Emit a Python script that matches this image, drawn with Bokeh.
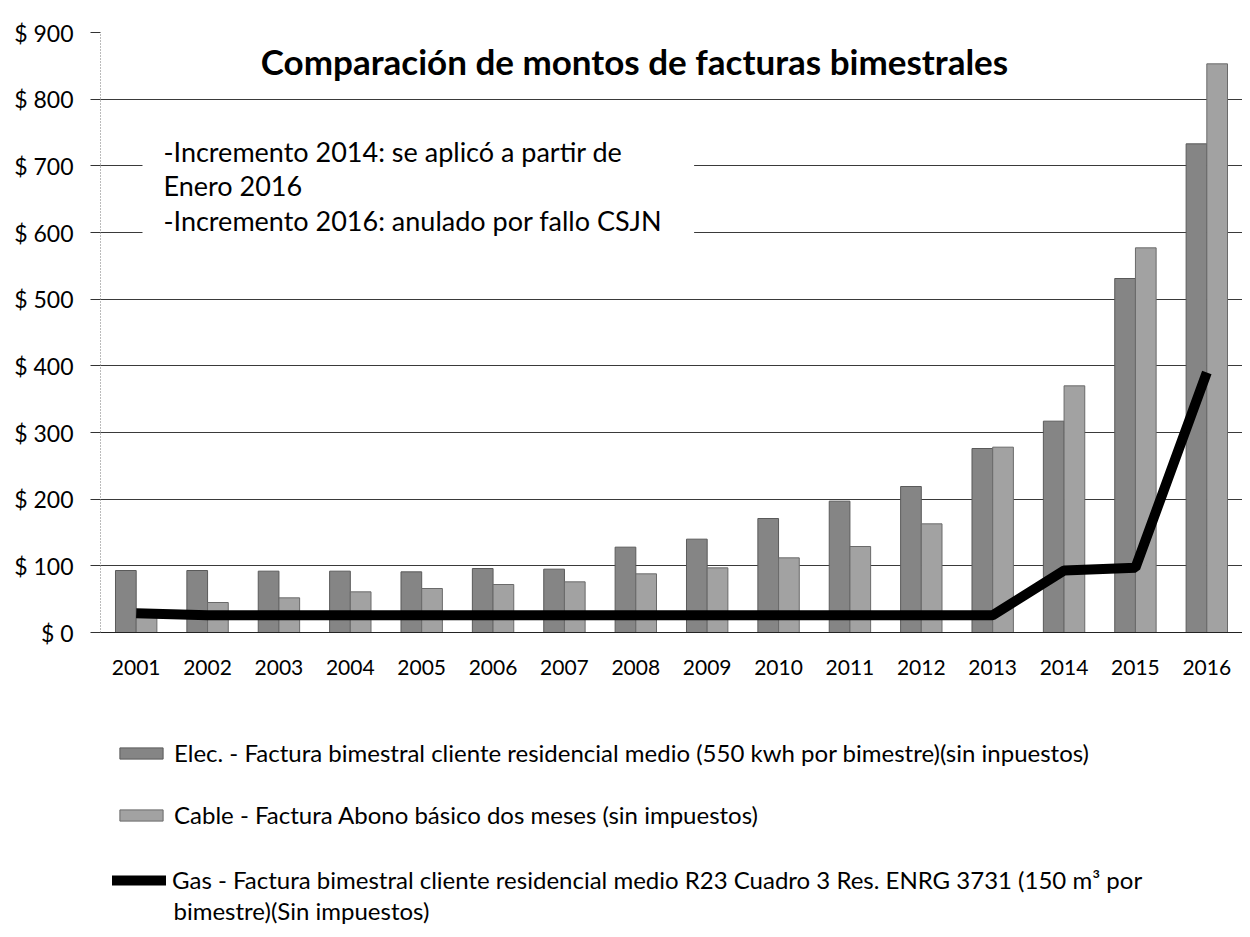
from bokeh.plotting import figure
from bokeh.layouts import column
from bokeh.models import (ColumnDataSource, FactorRange, FixedTicker, Label, Legend, LegendItem)
from bokeh.transform import dodge
from bokeh.embed import file_html
from bokeh.resources import INLINE

years = ["2001", "2002", "2003", "2004", "2005", "2006", "2007", "2008",
         "2009", "2010", "2011", "2012", "2013", "2014", "2015", "2016"]
elec = [93, 93, 92, 92, 91, 96, 95, 128, 140, 171, 197, 219, 276, 317, 531, 733]
cable = [25, 45, 52, 61, 66, 72, 76, 88, 97, 112, 129, 163, 278, 370, 577, 853]
gas = [29, 26, 26, 26, 26, 26, 26, 26, 26, 26, 26, 26, 26, 93, 97, 390]
y_ticks = [0, 100, 200, 300, 400, 500, 600, 700, 800, 900]

title_text = "Comparación de montos de facturas bimestrales"
note_text = "-Incremento 2014: se aplicó a partir de\nEnero 2016\n-Incremento 2016: anulado por fallo CSJN"
elec_label = "Elec. - Factura bimestral cliente residencial medio (550 kwh por bimestre)(sin inpuestos)"
cable_label = "Cable - Factura Abono básico dos meses (sin impuestos)"
gas_label = "Gas - Factura bimestral cliente residencial medio R23 Cuadro 3 Res. ENRG 3731 (150 m³ por"
gas_label2 = "bimestre)(Sin impuestos)"

FONT = "Lato"
ELEC_COLOR = "#858585"
CABLE_COLOR = "#a2a2a2"

src = ColumnDataSource(dict(year=years, elec=elec, cable=cable, gas=gas))

# ---------------- main chart ----------------
p = figure(x_range=FactorRange(*years), y_range=(0, 900),
           width=1242, height=700, output_backend="svg", toolbar_location=None,
           min_border_left=100, min_border_right=0, min_border_top=32, min_border_bottom=68)
p.outline_line_color = None
p.background_fill_color = "white"
p.border_fill_color = "white"

r_elec = p.vbar(x=dodge("year", -0.145, range=p.x_range), top="elec", width=0.29, source=src,
                fill_color=ELEC_COLOR, line_color="#5a5a5a", line_width=1)
r_cable = p.vbar(x=dodge("year", 0.145, range=p.x_range), top="cable", width=0.29, source=src,
                 fill_color=CABLE_COLOR, line_color="#6a6a6a", line_width=1)
r_gas = p.line(x="year", y="gas", source=src, line_color="black", line_width=10)

p.yaxis.ticker = FixedTicker(ticks=y_ticks)
p.yaxis.major_label_overrides = {t: "$ %d" % t for t in y_ticks}
p.yaxis.major_label_text_font = FONT
p.yaxis.major_label_text_font_size = "23px"
p.yaxis.major_label_text_color = "black"
p.yaxis.axis_line_color = "#777777"
p.yaxis.axis_line_dash = "1 2"
p.yaxis.major_tick_out = 10
p.yaxis.major_tick_in = 0
p.yaxis.major_tick_line_color = "#333333"
p.yaxis.minor_tick_line_color = None
p.yaxis.major_label_standoff = 17

p.xaxis.major_label_text_font = FONT
p.xaxis.major_label_text_font_size = "21px"
p.xaxis.major_label_text_color = "black"
p.xaxis.axis_line_color = "#222222"
p.xaxis.major_tick_line_color = None
p.xaxis.major_tick_out = 0
p.xaxis.major_label_standoff = 27

p.xgrid.grid_line_color = None
p.ygrid.grid_line_color = "#3a3a3a"
p.ygrid.grid_line_width = 1

p.add_layout(Label(x=534, y=572, x_units="screen", y_units="screen", text=title_text,
                   text_font=FONT, text_font_style="bold", text_font_size="35px",
                   text_align="center", text_baseline="middle", text_color="black"))
p.add_layout(Label(x=42, y=517, x_units="screen", y_units="screen", text=note_text,
                   text_font=FONT, text_font_size="27px", text_align="left", text_baseline="top",
                   text_line_height=1.05, text_color="black",
                   background_fill_color="white",
                   padding=dict(top=19, right=32, bottom=29, left=21)))

# ---------------- legend area (frame aligned with the chart's frame) ----------------
q = figure(width=1242, height=230, output_backend="svg", toolbar_location=None,
           x_range=(0, 1142), y_range=(0, 230), x_axis_location=None, y_axis_location=None,
           min_border_left=100, min_border_right=0, min_border_top=0, min_border_bottom=0)
q.outline_line_color = None
q.grid.visible = False
q.background_fill_color = "white"
q.border_fill_color = "white"

nan = float("nan")
d_elec = q.vbar(x=[0], top=[nan], width=1, fill_color=ELEC_COLOR, line_color="#5a5a5a", line_width=1)
d_cable = q.vbar(x=[0], top=[nan], width=1, fill_color=CABLE_COLOR, line_color="#6a6a6a", line_width=1)
d_gas = q.line(x=[0], y=[nan], line_color="black", line_width=10, line_cap="round")


def mk_legend(label, rend, loc):
    lg = Legend(items=[LegendItem(label=label, renderers=[rend])], location=loc,
                orientation="vertical", glyph_width=54, glyph_height=14, label_standoff=6,
                padding=0, margin=0, border_line_color=None, background_fill_alpha=0,
                label_text_font=FONT, label_text_font_size="24px", label_text_color="black",
                label_height=20)
    q.add_layout(lg, "center")


mk_legend(elec_label, d_elec, (14, 163))
mk_legend(cable_label, d_cable, (14, 101))
mk_legend(gas_label, d_gas, (12, 36))
q.add_layout(Label(x=73, y=20, x_units="screen", y_units="screen", text=gas_label2,
                   text_font=FONT, text_font_size="24px", text_align="left",
                   text_baseline="middle", text_color="black"))

layout = column(p, q, spacing=0)
open("out.html", "w").write(file_html(layout, INLINE))
